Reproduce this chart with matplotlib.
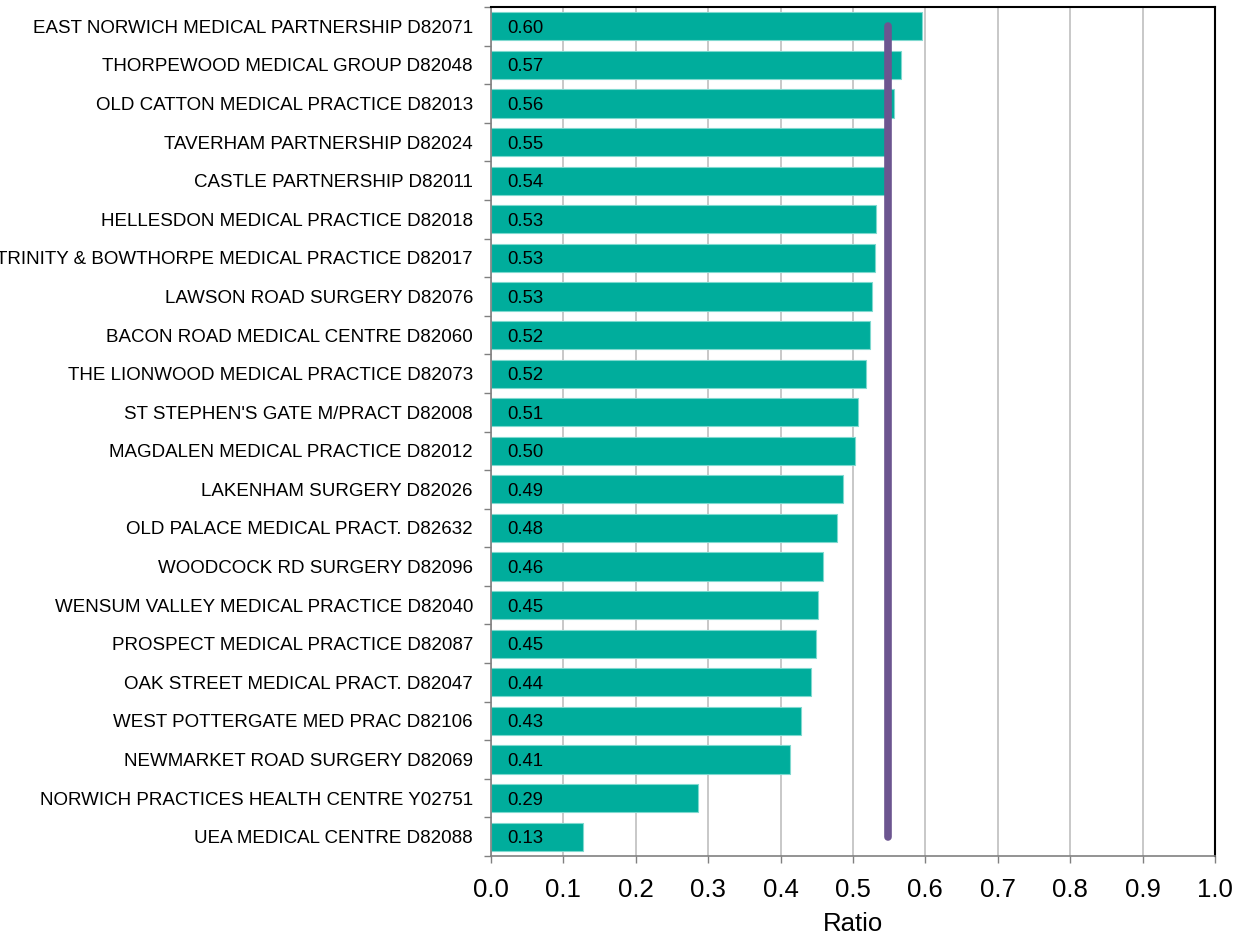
import matplotlib
matplotlib.use('Agg')
import matplotlib.pyplot as plt
import numpy as np

plt.rcParams['font.family'] = ['Liberation Sans', 'DejaVu Sans']

practices = [
    'EAST NORWICH MEDICAL PARTNERSHIP D82071',
    'THORPEWOOD MEDICAL GROUP D82048',
    'OLD CATTON MEDICAL PRACTICE D82013',
    'TAVERHAM PARTNERSHIP D82024',
    'CASTLE PARTNERSHIP D82011',
    'HELLESDON MEDICAL PRACTICE D82018',
    'TRINITY & BOWTHORPE MEDICAL PRACTICE D82017',
    'LAWSON ROAD SURGERY D82076',
    'BACON ROAD MEDICAL CENTRE D82060',
    'THE LIONWOOD MEDICAL PRACTICE D82073',
    "ST STEPHEN'S GATE M/PRACT D82008",
    'MAGDALEN MEDICAL PRACTICE D82012',
    'LAKENHAM SURGERY D82026',
    'OLD PALACE MEDICAL PRACT. D82632',
    'WOODCOCK RD SURGERY D82096',
    'WENSUM VALLEY MEDICAL PRACTICE D82040',
    'PROSPECT MEDICAL PRACTICE D82087',
    'OAK STREET MEDICAL PRACT. D82047',
    'WEST POTTERGATE MED PRAC D82106',
    'NEWMARKET ROAD SURGERY D82069',
    'NORWICH PRACTICES HEALTH CENTRE Y02751',
    'UEA MEDICAL CENTRE D82088',
]

ratios = [0.596, 0.566, 0.557, 0.548, 0.544, 0.532, 0.530, 0.526, 0.523, 0.518,
          0.507, 0.503, 0.486, 0.478, 0.458, 0.452, 0.449, 0.442, 0.428, 0.413,
          0.286, 0.127]

average = 0.549

xticks = [0.0, 0.1, 0.2, 0.3, 0.4, 0.5, 0.6, 0.7, 0.8, 0.9, 1.0]

barColor = '#00ad9c'
lineColor = '#6c5590'

fig = plt.figure(figsize=(12.36, 9.39), dpi=100)
ax = fig.add_axes([0.3972, 0.0884, 0.5858, 0.9041])

ypos = np.arange(len(practices))
ax.barh(ypos, ratios, height=0.73, color=barColor, edgecolor='#7fd9cf', linewidth=0.8, zorder=2)

for y, v in zip(ypos, ratios):
    ax.text(0.022, y, f'{v:.2f}', ha='left', va='center_baseline', fontsize=13.3,
            color='black', zorder=4)

ax.plot([average, average], [ypos[0], ypos[-1]], color=lineColor, lw=5.5,
        solid_capstyle='round', zorder=3)

ax.set_ylim(len(practices) - 0.5, -0.5)
ax.set_xlim(0, 1.0)

ax.set_yticks(ypos)
ax.set_yticklabels(practices, fontsize=13.5)
ax.set_yticks(np.arange(-0.5, len(practices)), minor=True)
ax.tick_params(axis='y', which='major', length=0, pad=13)
ax.tick_params(axis='y', which='minor', length=5, width=1, color='#808080', direction='out')

ax.set_xticks(xticks)
ax.set_xticklabels([f'{t:.1f}' for t in xticks], fontsize=18.5)
ax.tick_params(axis='x', length=5, width=1, color='#808080', direction='out', pad=11)
ax.set_xlabel('Ratio', fontsize=18.5, labelpad=7)

ax.xaxis.grid(True, color='#bfbfbf', linewidth=1.2, zorder=0)
ax.set_axisbelow(True)

ax.spines['left'].set_color('#808080')
ax.spines['bottom'].set_color('#808080')
ax.spines['left'].set_linewidth(1.2)
ax.spines['bottom'].set_linewidth(1.2)
ax.spines['top'].set_color('black')
ax.spines['right'].set_color('black')
ax.spines['top'].set_linewidth(1.5)
ax.spines['right'].set_linewidth(1.5)

plt.savefig('out.png', dpi=100)
